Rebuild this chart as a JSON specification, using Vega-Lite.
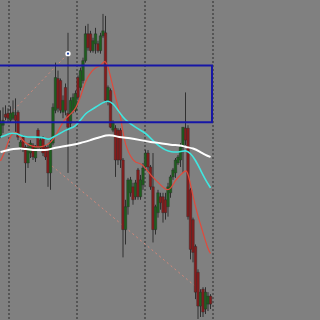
{
  "$schema": "https://vega.github.io/schema/vega-lite/v6.json",
  "width": 320,
  "height": 320,
  "autosize": {"type": "fit", "contains": "padding"},
  "padding": 0,
  "background": "#808080",
  "config": {"view": {"stroke": null}, "scale": {"continuousPadding": 0}},
  "datasets": {
    "candles": [
      {"bar":0,"open":1986.5,"close":1987.7,"high":1989.0,"low":1986.2},
      {"bar":1,"open":1987.5,"close":1988.0,"high":1989.3,"low":1986.7},
      {"bar":2,"open":1988.6,"close":1988.3,"high":1989.5,"low":1988.0},
      {"bar":3,"open":1988.7,"close":1988.2,"high":1989.2,"low":1987.8},
      {"bar":4,"open":1988.0,"close":1988.7,"high":1989.4,"low":1987.8},
      {"bar":5,"open":1988.2,"close":1988.8,"high":1990.0,"low":1988.0},
      {"bar":6,"open":1988.5,"close":1988.0,"high":1990.2,"low":1986.7},
      {"bar":7,"open":1988.8,"close":1986.3,"high":1989.0,"low":1986.0},
      {"bar":8,"open":1985.3,"close":1985.8,"high":1986.0,"low":1985.0},
      {"bar":9,"open":1986.3,"close":1985.2,"high":1986.5,"low":1984.8},
      {"bar":10,"open":1985.3,"close":1983.7,"high":1985.5,"low":1981.7},
      {"bar":11,"open":1983.7,"close":1985.3,"high":1985.7,"low":1983.2},
      {"bar":12,"open":1984.7,"close":1985.7,"high":1986.0,"low":1984.2},
      {"bar":13,"open":1985.5,"close":1984.3,"high":1985.7,"low":1984.0},
      {"bar":14,"open":1984.2,"close":1985.3,"high":1985.5,"low":1983.8},
      {"bar":15,"open":1987.0,"close":1985.3,"high":1987.2,"low":1985.0},
      {"bar":16,"open":1985.2,"close":1986.0,"high":1986.3,"low":1985.0},
      {"bar":17,"open":1986.2,"close":1984.7,"high":1986.4,"low":1984.4},
      {"bar":18,"open":1985.3,"close":1984.3,"high":1985.5,"low":1984.0},
      {"bar":19,"open":1985.3,"close":1982.7,"high":1985.5,"low":1981.3},
      {"bar":20,"open":1982.7,"close":1985.8,"high":1986.0,"low":1981.0},
      {"bar":21,"open":1985.7,"close":1989.3,"high":1989.7,"low":1985.5},
      {"bar":22,"open":1989.0,"close":1992.3,"high":1993.8,"low":1988.7},
      {"bar":23,"open":1992.2,"close":1989.2,"high":1993.0,"low":1988.8},
      {"bar":24,"open":1992.0,"close":1989.0,"high":1992.2,"low":1988.7},
      {"bar":25,"open":1988.8,"close":1990.0,"high":1990.5,"low":1988.2},
      {"bar":26,"open":1991.3,"close":1989.0,"high":1991.7,"low":1988.5},
      {"bar":27,"open":1988.7,"close":1987.3,"high":1996.8,"low":1982.7},
      {"bar":28,"open":1987.7,"close":1990.0,"high":1990.3,"low":1987.3},
      {"bar":29,"open":1989.0,"close":1990.3,"high":1990.7,"low":1988.7},
      {"bar":30,"open":1989.0,"close":1990.7,"high":1991.0,"low":1988.8},
      {"bar":31,"open":1992.3,"close":1990.3,"high":1992.5,"low":1990.0},
      {"bar":32,"open":1991.3,"close":1993.0,"high":1993.3,"low":1991.0},
      {"bar":33,"open":1992.0,"close":1994.0,"high":1994.3,"low":1991.7},
      {"bar":34,"open":1994.0,"close":1996.7,"high":1997.5,"low":1993.8},
      {"bar":35,"open":1996.7,"close":1995.3,"high":1997.7,"low":1995.0},
      {"bar":36,"open":1996.7,"close":1995.0,"high":1997.0,"low":1994.8},
      {"bar":37,"open":1995.0,"close":1996.0,"high":1996.3,"low":1994.8},
      {"bar":38,"open":1995.7,"close":1996.7,"high":1997.3,"low":1994.7},
      {"bar":39,"open":1995.7,"close":1995.0,"high":1996.0,"low":1994.8},
      {"bar":40,"open":1995.0,"close":1996.5,"high":1996.8,"low":1994.7},
      {"bar":41,"open":1996.5,"close":1997.0,"high":1998.7,"low":1996.3},
      {"bar":42,"open":1996.8,"close":1990.0,"high":1998.5,"low":1989.8},
      {"bar":43,"open":1990.0,"close":1991.3,"high":1991.5,"low":1989.5},
      {"bar":44,"open":1991.0,"close":1987.3,"high":1991.2,"low":1987.2},
      {"bar":45,"open":1987.0,"close":1987.7,"high":1988.0,"low":1986.8},
      {"bar":46,"open":1987.2,"close":1984.0,"high":1987.5,"low":1982.3},
      {"bar":47,"open":1987.0,"close":1984.0,"high":1987.2,"low":1983.5},
      {"bar":48,"open":1987.0,"close":1984.0,"high":1987.2,"low":1983.2},
      {"bar":49,"open":1984.0,"close":1977.0,"high":1984.2,"low":1974.2},
      {"bar":50,"open":1977.0,"close":1979.3,"high":1980.0,"low":1975.5},
      {"bar":51,"open":1979.3,"close":1982.0,"high":1982.2,"low":1978.5},
      {"bar":52,"open":1980.7,"close":1982.0,"high":1982.3,"low":1980.3},
      {"bar":53,"open":1981.3,"close":1980.0,"high":1981.7,"low":1979.5},
      {"bar":54,"open":1980.3,"close":1981.7,"high":1982.0,"low":1980.0},
      {"bar":55,"open":1983.0,"close":1980.3,"high":1983.2,"low":1980.0},
      {"bar":56,"open":1980.3,"close":1982.0,"high":1982.5,"low":1980.0},
      {"bar":57,"open":1981.5,"close":1983.2,"high":1983.7,"low":1981.0},
      {"bar":58,"open":1983.3,"close":1984.7,"high":1985.0,"low":1983.0},
      {"bar":59,"open":1984.7,"close":1983.3,"high":1985.0,"low":1982.8},
      {"bar":60,"open":1983.3,"close":1981.3,"high":1983.5,"low":1981.0},
      {"bar":61,"open":1981.3,"close":1977.0,"high":1984.7,"low":1975.7},
      {"bar":62,"open":1977.0,"close":1979.3,"high":1979.5,"low":1976.5},
      {"bar":63,"open":1978.7,"close":1980.7,"high":1981.0,"low":1978.2},
      {"bar":64,"open":1980.3,"close":1979.7,"high":1980.7,"low":1979.0},
      {"bar":65,"open":1980.3,"close":1978.7,"high":1980.7,"low":1977.7},
      {"bar":66,"open":1980.0,"close":1978.7,"high":1980.7,"low":1978.0},
      {"bar":67,"open":1979.3,"close":1981.3,"high":1981.7,"low":1978.3},
      {"bar":68,"open":1980.7,"close":1982.3,"high":1982.5,"low":1980.2},
      {"bar":69,"open":1982.3,"close":1983.0,"high":1983.2,"low":1982.0},
      {"bar":70,"open":1982.7,"close":1984.0,"high":1984.2,"low":1982.2},
      {"bar":71,"open":1983.7,"close":1984.3,"high":1984.5,"low":1983.5},
      {"bar":72,"open":1984.0,"close":1985.3,"high":1985.7,"low":1983.3},
      {"bar":73,"open":1985.3,"close":1987.3,"high":1987.3,"low":1982.7},
      {"bar":74,"open":1987.2,"close":1986.0,"high":1990.8,"low":1985.5},
      {"bar":75,"open":1987.2,"close":1978.3,"high":1987.5,"low":1978.0},
      {"bar":76,"open":1981.0,"close":1975.0,"high":1981.2,"low":1974.0},
      {"bar":77,"open":1978.0,"close":1974.7,"high":1978.2,"low":1973.7},
      {"bar":78,"open":1975.3,"close":1970.7,"high":1975.5,"low":1970.0},
      {"bar":79,"open":1972.7,"close":1969.3,"high":1973.0,"low":1968.0},
      {"bar":80,"open":1969.3,"close":1970.7,"high":1971.0,"low":1968.2},
      {"bar":81,"open":1971.0,"close":1968.7,"high":1971.2,"low":1968.2},
      {"bar":82,"open":1969.0,"close":1970.7,"high":1971.2,"low":1968.5},
      {"bar":83,"open":1969.5,"close":1970.3,"high":1970.7,"low":1968.8},
      {"bar":84,"open":1970.3,"close":1969.5,"high":1970.5,"low":1969.0}
    ],
    "ma": [
      {"series":"fast","bar":0,"price":1983.9},{"series":"fast","bar":2,"price":1985.0},{"series":"fast","bar":4,"price":1986.5},{"series":"fast","bar":6,"price":1987.0},{"series":"fast","bar":8,"price":1986.2},{"series":"fast","bar":10,"price":1985.7},{"series":"fast","bar":13,"price":1985.3},{"series":"fast","bar":17,"price":1985.3},{"series":"fast","bar":20,"price":1985.7},{"series":"fast","bar":22,"price":1986.4},{"series":"fast","bar":24,"price":1987.4},{"series":"fast","bar":26,"price":1988.2},{"series":"fast","bar":28,"price":1988.6},{"series":"fast","bar":30,"price":1989.1},{"series":"fast","bar":32,"price":1990.3},{"series":"fast","bar":34,"price":1992.0},{"series":"fast","bar":36,"price":1992.8},{"series":"fast","bar":38,"price":1993.3},{"series":"fast","bar":40,"price":1993.5},{"series":"fast","bar":41,"price":1993.8},{"series":"fast","bar":42,"price":1994.0},{"series":"fast","bar":43,"price":1993.4},{"series":"fast","bar":44,"price":1992.4},{"series":"fast","bar":46,"price":1990.3},{"series":"fast","bar":48,"price":1988.5},{"series":"fast","bar":49,"price":1986.7},{"series":"fast","bar":50,"price":1985.5},{"series":"fast","bar":52,"price":1984.3},{"series":"fast","bar":54,"price":1983.7},{"series":"fast","bar":56,"price":1983.7},{"series":"fast","bar":58,"price":1983.2},{"series":"fast","bar":60,"price":1982.5},{"series":"fast","bar":62,"price":1982.0},{"series":"fast","bar":64,"price":1981.5},{"series":"fast","bar":66,"price":1981.0},{"series":"fast","bar":68,"price":1981.0},{"series":"fast","bar":70,"price":1982.0},{"series":"fast","bar":72,"price":1982.5},{"series":"fast","bar":74,"price":1983.0},{"series":"fast","bar":75,"price":1982.8},{"series":"fast","bar":77,"price":1980.3},{"series":"fast","bar":79,"price":1978.3},{"series":"fast","bar":81,"price":1976.7},{"series":"fast","bar":83,"price":1975.0},{"series":"fast","bar":84,"price":1974.6},
      {"series":"mid","bar":0,"price":1986.3},{"series":"mid","bar":2,"price":1986.5},{"series":"mid","bar":4,"price":1986.7},{"series":"mid","bar":6,"price":1986.7},{"series":"mid","bar":8,"price":1986.5},{"series":"mid","bar":10,"price":1986.3},{"series":"mid","bar":14,"price":1986.3},{"series":"mid","bar":17,"price":1986.3},{"series":"mid","bar":19,"price":1986.0},{"series":"mid","bar":21,"price":1986.3},{"series":"mid","bar":24,"price":1986.7},{"series":"mid","bar":26,"price":1987.0},{"series":"mid","bar":28,"price":1987.2},{"series":"mid","bar":30,"price":1987.4},{"series":"mid","bar":32,"price":1988.0},{"series":"mid","bar":34,"price":1988.7},{"series":"mid","bar":36,"price":1989.0},{"series":"mid","bar":38,"price":1989.3},{"series":"mid","bar":41,"price":1989.8},{"series":"mid","bar":43,"price":1990.0},{"series":"mid","bar":45,"price":1989.7},{"series":"mid","bar":47,"price":1989.0},{"series":"mid","bar":49,"price":1988.3},{"series":"mid","bar":51,"price":1987.8},{"series":"mid","bar":54,"price":1987.3},{"series":"mid","bar":56,"price":1987.0},{"series":"mid","bar":58,"price":1986.7},{"series":"mid","bar":60,"price":1986.2},{"series":"mid","bar":62,"price":1985.7},{"series":"mid","bar":64,"price":1985.3},{"series":"mid","bar":66,"price":1985.0},{"series":"mid","bar":68,"price":1984.8},{"series":"mid","bar":72,"price":1984.8},{"series":"mid","bar":74,"price":1985.0},{"series":"mid","bar":76,"price":1984.7},{"series":"mid","bar":78,"price":1984.0},{"series":"mid","bar":80,"price":1983.0},{"series":"mid","bar":82,"price":1982.0},{"series":"mid","bar":84,"price":1981.2},
      {"series":"slow","bar":0,"price":1984.8},{"series":"slow","bar":3,"price":1985.0},{"series":"slow","bar":5,"price":1985.1},{"series":"slow","bar":8,"price":1985.2},{"series":"slow","bar":10,"price":1985.1},{"series":"slow","bar":13,"price":1985.0},{"series":"slow","bar":16,"price":1985.0},{"series":"slow","bar":19,"price":1985.0},{"series":"slow","bar":21,"price":1985.2},{"series":"slow","bar":24,"price":1985.3},{"series":"slow","bar":26,"price":1985.4},{"series":"slow","bar":28,"price":1985.5},{"series":"slow","bar":32,"price":1985.7},{"series":"slow","bar":36,"price":1986.0},{"series":"slow","bar":40,"price":1986.3},{"series":"slow","bar":42,"price":1986.5},{"series":"slow","bar":45,"price":1986.5},{"series":"slow","bar":47,"price":1986.3},{"series":"slow","bar":52,"price":1986.2},{"series":"slow","bar":56,"price":1986.0},{"series":"slow","bar":60,"price":1985.8},{"series":"slow","bar":64,"price":1985.7},{"series":"slow","bar":68,"price":1985.5},{"series":"slow","bar":72,"price":1985.5},{"series":"slow","bar":74,"price":1985.3},{"series":"slow","bar":77,"price":1985.2},{"series":"slow","bar":80,"price":1984.8},{"series":"slow","bar":82,"price":1984.5},{"series":"slow","bar":84,"price":1984.3}
    ],
    "separators": [{"bar":3.4},{"bar":30.6},{"bar":57.8},{"bar":85.0}],
    "trend": [
      {"line":"a","bar":-0.2,"price":1987.6},{"line":"a","bar":27,"price":1994.7},
      {"line":"b","bar":20.6,"price":1983.4},{"line":"b","bar":79.8,"price":1970.9}
    ],
    "zone": [{"bar":-5,"bar2":84.6,"top":1993.5,"bottom":1987.8}],
    "marker": [{"bar":27,"price":1994.7}]
  },
  "encoding": {
    "x": {"field": "bar", "type": "quantitative", "axis": null, "scale": {"domain": [-0.2, 127.8], "nice": false, "zero": false, "padding": 0}}
  },
  "layer": [
    {
      "data": {"name": "separators"},
      "mark": {"type": "rule", "color": "#2a2a2a", "strokeWidth": 1, "strokeDash": [2, 2]},
      "encoding": {}
    },
    {
      "data": {"name": "trend"},
      "mark": {"type": "line", "color": "#e08878", "strokeWidth": 1, "strokeDash": [2, 3], "opacity": 0.85, "clip": true},
      "encoding": {
        "y": {"field": "price", "type": "quantitative", "axis": null, "scale": {"domain": [1968, 2000], "nice": false, "zero": false, "padding": 0}},
        "detail": {"field": "line"}
      }
    },
    {
      "data": {"name": "candles"},
      "mark": {"type": "rule", "color": "#303030", "strokeWidth": 1, "clip": true},
      "encoding": {
        "y": {"field": "low", "type": "quantitative", "axis": null, "scale": {"domain": [1968, 2000], "nice": false, "zero": false, "padding": 0}},
        "y2": {"field": "high"}
      }
    },
    {
      "data": {"name": "candles"},
      "mark": {"type": "bar", "size": 2.6, "clip": true, "stroke": "#2a2a2a", "strokeWidth": 0.4},
      "encoding": {
        "y": {"field": "open", "type": "quantitative", "axis": null, "scale": {"domain": [1968, 2000], "nice": false, "zero": false, "padding": 0}},
        "y2": {"field": "close"},
        "color": {"condition": {"test": "datum.close >= datum.open", "value": "#1e5f1e"}, "value": "#861c1c"}
      }
    },
    {
      "data": {"name": "ma"},
      "mark": {"type": "line", "interpolate": "basis", "clip": true},
      "encoding": {
        "y": {"field": "price", "type": "quantitative", "axis": null, "scale": {"domain": [1968, 2000], "nice": false, "zero": false, "padding": 0}},
        "color": {"field": "series", "type": "nominal", "legend": null, "scale": {"domain": ["fast", "mid", "slow"], "range": ["#e04a3c", "#40e6e0", "#ffffff"]}},
        "strokeWidth": {"field": "series", "type": "nominal", "legend": null, "scale": {"domain": ["fast", "mid", "slow"], "range": [1.2, 2, 2]}}
      }
    },
    {
      "data": {"name": "zone"},
      "mark": {"type": "rect", "fill": null, "fillOpacity": 0, "stroke": "#1616a6", "strokeWidth": 2, "clip": true},
      "encoding": {
        "x2": {"field": "bar2"},
        "y": {"field": "top", "type": "quantitative", "axis": null, "scale": {"domain": [1968, 2000], "nice": false, "zero": false, "padding": 0}},
        "y2": {"field": "bottom"}
      }
    },
    {
      "data": {"name": "marker"},
      "mark": {"type": "point", "shape": "circle", "filled": true, "color": "#ffffff", "size": 28, "opacity": 1},
      "encoding": {
        "y": {"field": "price", "type": "quantitative", "axis": null, "scale": {"domain": [1968, 2000], "nice": false, "zero": false, "padding": 0}}
      }
    },
    {
      "data": {"name": "marker"},
      "mark": {"type": "point", "shape": "circle", "filled": true, "color": "#1a3fa0", "size": 5, "opacity": 1},
      "encoding": {
        "y": {"field": "price", "type": "quantitative", "axis": null, "scale": {"domain": [1968, 2000], "nice": false, "zero": false, "padding": 0}}
      }
    }
  ]
}
